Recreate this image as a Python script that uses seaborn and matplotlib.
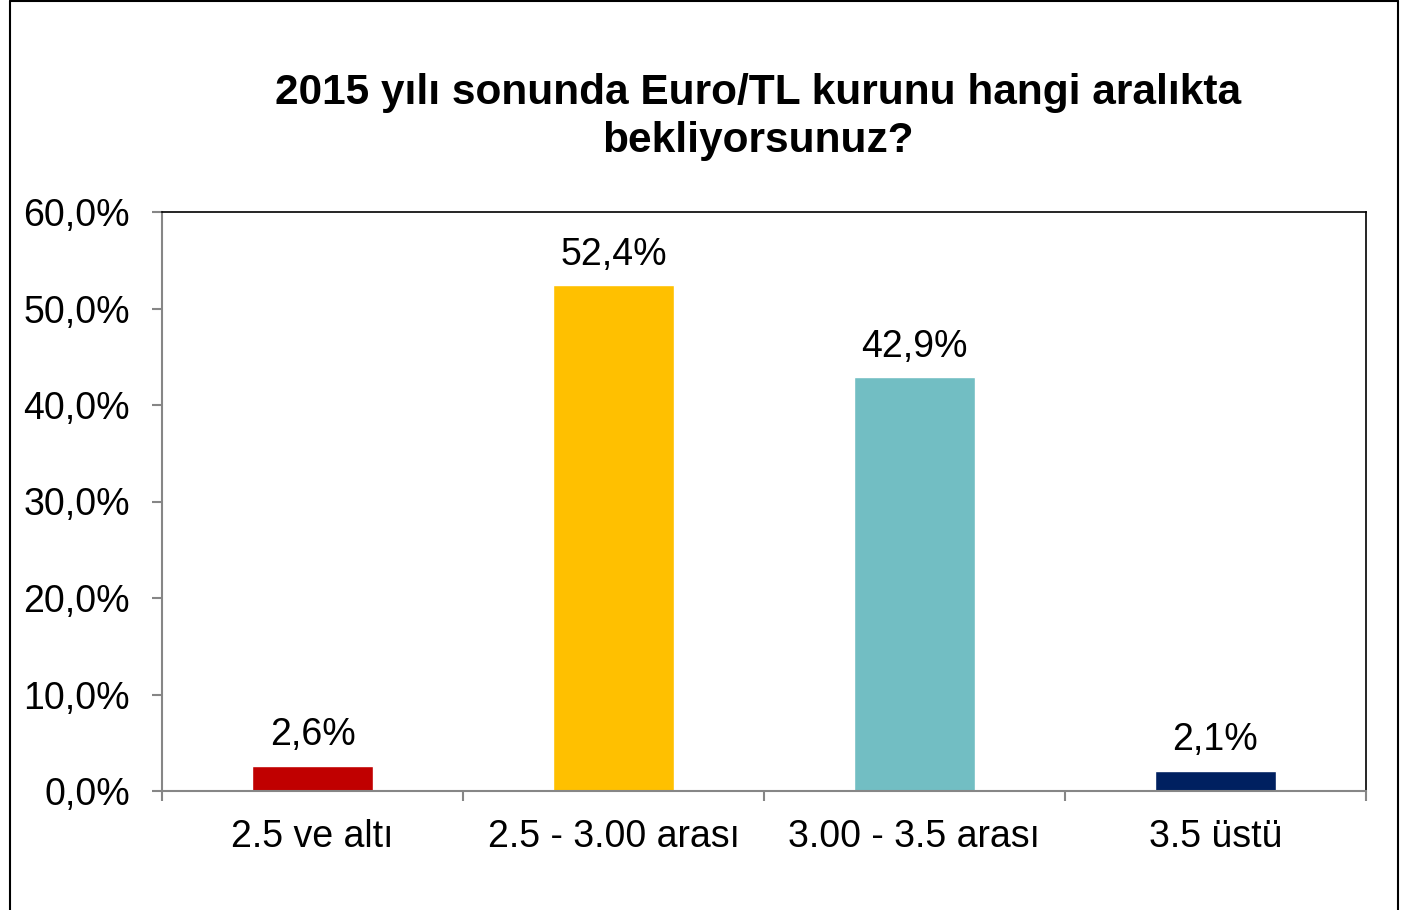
# Euro/TL expectation survey bar chart
import numpy as np
import pandas as pd
import matplotlib
matplotlib.use('Agg')
import matplotlib.pyplot as plt
from matplotlib.lines import Line2D
from matplotlib.ticker import FuncFormatter, FixedLocator
import seaborn as sns

sns.set_style("white")
plt.rcParams['font.family'] = ['Liberation Sans', 'DejaVu Sans']
plt.rcParams['text.color'] = 'black'
plt.rcParams['xtick.color'] = '#868686'
plt.rcParams['ytick.color'] = '#868686'

# Data
categories = ['2.5 ve altı', '2.5 - 3.00 arası', '3.00 - 3.5 arası', '3.5 üstü']
values = [2.6, 52.4, 42.9, 2.1]
colors = ['#C00000', '#FFC000', '#72BEC3', '#002060']
title = '2015 yılı sonunda Euro/TL kurunu hangi aralıkta\nbekliyorsunuz?'

lbl_size = 27
df = pd.DataFrame({'kategori': categories, 'oran': values})

fig = plt.figure(figsize=(14.1, 9.1), dpi=100)
ax = fig.add_axes([162/1410, 1 - 791/910, (1366 - 162)/1410, (791 - 212)/910])

sns.barplot(data=df, x='kategori', y='oran', hue='kategori', palette=colors,
            width=0.4, legend=False, saturation=1, ax=ax)

ax.set_ylim(0, 60)
ax.set_xlim(-0.5, 3.5)
ax.set_yticks(np.arange(0, 61, 10))
ax.yaxis.set_major_formatter(FuncFormatter(lambda v, p: '{:.1f}%'.format(v).replace('.', ',')))
ax.set_xlabel('')
ax.set_ylabel('')

# category boundary ticks
ax.xaxis.set_minor_locator(FixedLocator([-0.5, 0.5, 1.5, 2.5, 3.5]))
ax.tick_params(axis='x', which='major', bottom=True, length=0, pad=20,
               labelsize=lbl_size, labelcolor='black')
ax.tick_params(axis='x', which='minor', bottom=True, length=7, width=1.5, direction='out')
ax.tick_params(axis='y', left=True, length=7, width=1.5, direction='out', pad=16,
               labelsize=lbl_size, labelcolor='black')

for side in ['left', 'bottom']:
    ax.spines[side].set_color('#868686')
    ax.spines[side].set_linewidth(1.5)
for side in ['top', 'right']:
    ax.spines[side].set_color('black')
    ax.spines[side].set_linewidth(1.2)

for cont in ax.containers:
    ax.bar_label(cont, labels=['{:.1f}%'.format(v).replace('.', ',') for v in cont.datavalues],
                 padding=9, fontsize=lbl_size, color='black')

fig.text(758/1410, 1 - 117/910, title, ha='center', va='center', fontsize=30.5,
         fontweight='bold', linespacing=1.27)

# outer chart border
for xs, ys in [([10/1410, 10/1410], [0, 1 - 1/910]),
               ([10/1410, 1398/1410], [1 - 1/910, 1 - 1/910]),
               ([1398/1410, 1398/1410], [0, 1 - 1/910])]:
    fig.add_artist(Line2D(xs, ys, color='black', linewidth=1.5))

fig.savefig('out.png', dpi=100)
